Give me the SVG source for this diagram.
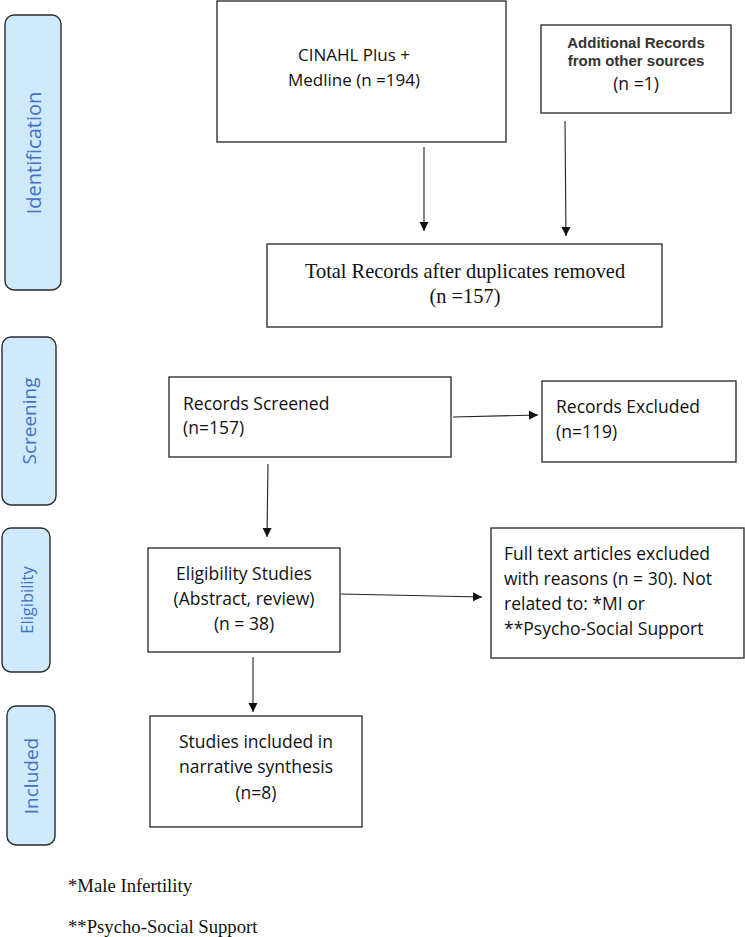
<svg xmlns="http://www.w3.org/2000/svg" width="745" height="937" viewBox="0 0 745 937">
<defs>
<style>
.phase{fill:#cfeafc;stroke:#2b2b2b;stroke-width:1.4}
.ptxt{font-family:"Open Sans","Noto Sans",sans-serif;fill:#4472c4;text-anchor:middle;dominant-baseline:central}
.box{fill:#fff;stroke:#333;stroke-width:1.4}
.cal{font-family:"Open Sans","Noto Sans",sans-serif;font-size:17.5px;fill:#111}
.mid{text-anchor:middle}
.ser{font-family:"Liberation Serif","Times New Roman",serif;fill:#111}
.bold{font-family:"Liberation Sans",Arial,sans-serif;font-weight:bold;font-size:15px;fill:#333;text-anchor:middle}
.con{stroke:#222;stroke-width:1.1;fill:none;marker-end:url(#ah)}
</style>
<marker id="ah" viewBox="0 0 10 10" refX="10" refY="5" markerWidth="9" markerHeight="10" markerUnits="userSpaceOnUse" orient="auto">
<path d="M0,0 L10,5 L0,10 z" fill="#111"/>
</marker>
</defs>
<rect width="745" height="937" fill="#fff"/>

<g id="phase-identification">
<rect class="phase" x="5" y="15" width="56" height="275" rx="9"/>
<text class="ptxt" font-size="20" transform="translate(33,153) rotate(-90)">Identification</text>
</g>
<g id="phase-screening">
<rect class="phase" x="2" y="337" width="54" height="168" rx="9"/>
<text class="ptxt" font-size="19" transform="translate(29,421) rotate(-90)">Screening</text>
</g>
<g id="phase-eligibility">
<rect class="phase" x="2" y="528" width="48" height="144" rx="9"/>
<text class="ptxt" font-size="16.5" transform="translate(26,600) rotate(-90)">Eligibility</text>
</g>
<g id="phase-included">
<rect class="phase" x="7" y="706" width="48" height="139" rx="9"/>
<text class="ptxt" font-size="19" transform="translate(31,776) rotate(-90)">Included</text>
</g>

<g id="node-cinahl">
<rect class="box" x="217" y="1" width="289" height="141"/>
<text class="cal mid" x="354" y="61" style="font-size:17px">CINAHL Plus +</text>
<text class="cal mid" x="354" y="86" style="font-size:17px">Medline (n =194)</text>
</g>

<g id="node-additional">
<rect class="box" x="541" y="25" width="190" height="88"/>
<text class="bold" x="636" y="48">Additional Records</text>
<text class="bold" x="636" y="66">from other sources</text>
<text class="cal mid" x="636" y="90" style="font-size:17.5px">(n =1)</text>
</g>

<g id="node-total">
<rect class="box" x="267" y="244" width="395" height="83"/>
<text class="ser mid" x="465" y="278" font-size="20.4">Total Records after duplicates removed</text>
<text class="ser mid" x="465" y="303" font-size="20.4">(n =157)</text>
</g>

<g id="node-screened">
<rect class="box" x="169" y="377" width="282" height="80"/>
<text class="cal" x="183" y="410">Records Screened</text>
<text class="cal" x="183" y="434">(n=157)</text>
</g>

<g id="node-excluded">
<rect class="box" x="542" y="381" width="194" height="81"/>
<text class="cal" x="556" y="413">Records Excluded</text>
<text class="cal" x="556" y="438">(n=119)</text>
</g>

<g id="node-eligibility">
<rect class="box" x="148" y="548" width="192" height="104"/>
<text class="cal mid" x="244" y="580">Eligibility Studies</text>
<text class="cal mid" x="244" y="605">(Abstract, review)</text>
<text class="cal mid" x="244" y="630">(n = 38)</text>
</g>

<g id="node-fulltext">
<rect class="box" x="491" y="528" width="253" height="130"/>
<text class="cal" x="504" y="560">Full text articles excluded</text>
<text class="cal" x="504" y="585">with reasons (n = 30). Not</text>
<text class="cal" x="504" y="610">related to: *MI or</text>
<text class="cal" x="504" y="635">**Psycho-Social Support</text>
</g>

<g id="node-included">
<rect class="box" x="150" y="716" width="212" height="111"/>
<text class="cal mid" x="256" y="748">Studies included in</text>
<text class="cal mid" x="256" y="773">narrative synthesis</text>
<text class="cal mid" x="256" y="799">(n=8)</text>
</g>

<g id="connectors">
<line class="con" x1="424" y1="147" x2="424" y2="231"/>
<line class="con" x1="565" y1="121" x2="566" y2="236"/>
<line class="con" x1="453" y1="417" x2="538" y2="415"/>
<line class="con" x1="268" y1="464" x2="267" y2="537"/>
<line class="con" x1="341" y1="594" x2="482" y2="597"/>
<line class="con" x1="253" y1="657" x2="253" y2="712"/>
</g>

<g id="footnotes">
<text class="ser" x="68" y="892" font-size="18.7">*Male Infertility</text>
<text class="ser" x="68" y="933" font-size="18.7">**Psycho-Social Support</text>
</g>
</svg>
